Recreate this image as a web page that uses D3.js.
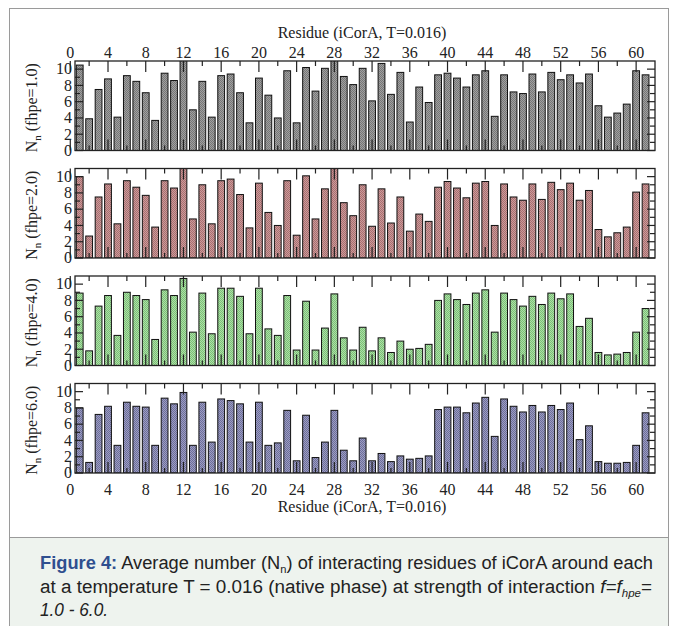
<!DOCTYPE html>
<html>
<head>
<meta charset="utf-8">
<script src="https://cdn.jsdelivr.net/npm/d3@7"></script>
<style>
  body { margin: 0; background: #fff; }
  svg { display: block; }
</style>
</head>
<body>
<svg id="chart"></svg>
<script>
// residues along the chain
const residues = d3.range(1, 62);

// N_n per residue, one list per interaction strength
const nnF1 = [10.5,3.9,7.5,8.8,4.1,9.2,8.5,7.1,3.7,9.5,8.6,11.5,5.0,8.5,4.1,9.2,9.4,7.1,3.4,8.9,
  6.8,4.0,9.8,3.4,10.2,7.3,10.1,11.5,9.1,8.1,10.1,6.1,10.7,6.9,9.6,3.5,7.8,5.9,9.3,9.5,
  8.9,7.8,9.3,9.8,4.2,9.3,7.2,7.0,9.4,7.2,9.6,8.7,9.3,8.3,9.4,5.5,4.1,4.6,5.7,9.8,9.3];
const nnF2 = [10.0,2.7,7.5,9.1,4.2,9.5,8.7,7.7,3.8,9.5,8.6,11.5,4.8,9.0,4.2,9.5,9.7,7.8,3.7,9.2,
  5.6,4.0,9.5,2.8,10.1,4.8,8.5,11.5,6.8,5.2,9.0,3.9,8.5,4.3,7.5,3.3,5.4,4.5,8.7,9.4,
  8.6,7.4,9.2,9.4,4.0,9.1,7.5,7.1,9.1,7.2,9.3,8.4,9.2,7.1,8.3,3.5,2.6,3.1,3.8,8.1,9.1];
const nnF4 = [8.9,1.8,7.3,8.6,3.7,9.0,8.6,8.1,3.2,9.3,8.6,10.7,4.1,8.9,3.9,9.5,9.5,8.5,3.9,9.5,
  4.5,3.7,8.6,1.9,7.9,1.9,4.6,8.8,3.4,1.9,4.7,1.8,3.4,1.6,3.0,2.0,2.1,2.6,8.0,8.8,
  8.1,7.5,8.9,9.3,4.1,8.9,8.1,7.3,8.5,7.5,8.9,8.2,8.8,4.8,5.8,1.6,1.3,1.4,1.6,4.1,7.0];
const nnF6 = [8.0,1.3,7.2,8.2,3.4,8.7,8.2,8.1,3.4,9.2,8.5,9.9,3.4,8.7,3.8,9.1,8.9,8.5,3.8,8.7,
  3.4,3.7,7.7,1.5,7.1,1.9,3.8,7.7,2.8,1.5,4.3,1.5,2.4,1.4,2.1,1.7,1.8,2.1,7.8,8.1,
  8.1,7.4,8.6,9.3,4.5,9.1,8.2,7.5,8.3,7.5,8.3,7.8,8.6,4.1,5.8,1.4,1.2,1.2,1.3,3.4,7.4];

const panelNames = ["1.0", "2.0", "4.0", "6.0"];
const panelValues = [nnF1, nnF2, nnF4, nnF6];
const panelColors = [["#767676", "#a0a0a0"], ["#a86f70", "#cb9a9a"], ["#7cc077", "#acdfa6"], ["#6d6e9a", "#9c9dc2"]];

const xTicks = d3.range(0, 61, 4);
const xMinor = d3.range(2, 61, 4);
const yTickLabels = [0, 2, 4, 6, 8, 10];

const width = 677, height = 626;
const plotLeft = 75, plotRight = 655;
const panelTop = [61, 168.5, 276, 383.5];
const panelH = 89.5;

const svg = d3.select("#chart").attr("width", width).attr("height", height)
  .attr("viewBox", [0, 0, width, height]);

// figure frame and caption box
svg.append("rect").attr("x", 9.5).attr("y", 8.5).attr("width", 659).attr("height", 529)
  .attr("fill", "#fff").attr("stroke", "#9a9a9a");
svg.append("rect").attr("x", 9.5).attr("y", 537.5).attr("width", 659).attr("height", 100)
  .attr("fill", "#eef3ee").attr("stroke", "#9a9a9a");

const x = d3.scaleLinear().domain([0.5, 62]).range([plotLeft, plotRight]);
const barW = x(1.72) - x(1);

// checker patterns to mimic the dithered fill
const defs = svg.append("defs");
panelColors.forEach((c, i) => {
  const p = defs.append("pattern").attr("id", "pat" + i).attr("width", 2).attr("height", 2)
    .attr("patternUnits", "userSpaceOnUse");
  p.append("rect").attr("width", 2).attr("height", 2).attr("fill", c[1]);
  p.append("rect").attr("width", 1).attr("height", 1).attr("fill", c[0]);
  p.append("rect").attr("x", 1).attr("y", 1).attr("width", 1).attr("height", 1).attr("fill", c[0]);
});

const serif = "'Liberation Serif', 'DejaVu Serif', serif";
const fs = 16;

panelValues.forEach((vals, i) => {
  const top = panelTop[i], bottom = top + panelH;
  const y = d3.scaleLinear().domain([0, 11]).range([bottom, top]);
  const g = svg.append("g");

  const clipId = "clip" + i;
  defs.append("clipPath").attr("id", clipId).append("rect")
    .attr("x", plotLeft).attr("y", top).attr("width", plotRight - plotLeft).attr("height", panelH);

  g.append("g").attr("clip-path", `url(#${clipId})`)
    .selectAll("rect").data(residues).join("rect")
    .attr("x", (d) => x(d) - barW / 2)
    .attr("y", (d, j) => y(vals[j]))
    .attr("width", barW)
    .attr("height", (d, j) => y(0) - y(vals[j]))
    .attr("fill", `url(#pat${i})`)
    .attr("stroke", "#111")
    .attr("stroke-width", 1);

  // x ticks top and bottom, pointing inward
  const tk = g.append("g").attr("stroke", "#222").attr("stroke-width", 1.2);
  [[xTicks, 11], [xMinor, 5]].forEach(([vs, len]) => {
    tk.selectAll(null).data(vs).join("line")
      .attr("x1", (d) => x(d)).attr("x2", (d) => x(d))
      .attr("y1", top).attr("y2", top + len);
    tk.selectAll(null).data(vs).join("line")
      .attr("x1", (d) => x(d)).attr("x2", (d) => x(d))
      .attr("y1", bottom).attr("y2", bottom - len);
  });

  // y ticks left and right
  const yt = d3.range(0, 11);
  tk.selectAll(null).data(yt).join("line")
    .attr("x1", plotLeft).attr("x2", (d) => plotLeft + (d % 2 ? 5 : 8))
    .attr("y1", (d) => y(d)).attr("y2", (d) => y(d));
  tk.selectAll(null).data(yt).join("line")
    .attr("x1", plotRight).attr("x2", (d) => plotRight - (d % 2 ? 5 : 8))
    .attr("y1", (d) => y(d)).attr("y2", (d) => y(d));

  g.append("rect").attr("x", plotLeft).attr("y", top)
    .attr("width", plotRight - plotLeft).attr("height", panelH)
    .attr("fill", "none").attr("stroke", "#222").attr("stroke-width", 1.3);

  g.selectAll(null).data(yTickLabels).join("text")
    .attr("x", plotLeft - 3).attr("y", (d) => y(d)).attr("dy", "0.33em")
    .attr("text-anchor", "end").attr("font-family", serif).attr("font-size", fs)
    .attr("fill", "#222").text((d) => d);

  const lab = g.append("text")
    .attr("transform", `translate(37,${top + panelH / 2 + 2}) rotate(-90)`)
    .attr("text-anchor", "middle").attr("font-family", serif).attr("font-size", fs)
    .attr("fill", "#222");
  lab.append("tspan").text("N");
  lab.append("tspan").attr("font-size", 11).attr("dy", 4).text("n");
  lab.append("tspan").attr("dy", -4).text(` (fhpe=${panelNames[i]})`);
});

// top and bottom residue axes
svg.append("g").selectAll("text").data(xTicks).join("text")
  .attr("x", (d) => x(d)).attr("y", 52).attr("dy", "0.35em")
  .attr("text-anchor", "middle").attr("font-family", serif).attr("font-size", fs)
  .attr("fill", "#222").text((d) => d);
svg.append("g").selectAll("text").data(xTicks).join("text")
  .attr("x", (d) => x(d)).attr("y", panelTop[3] + panelH + 16).attr("dy", "0.35em")
  .attr("text-anchor", "middle").attr("font-family", serif).attr("font-size", fs)
  .attr("fill", "#222").text((d) => d);
svg.append("text").attr("x", 362).attr("y", 32).attr("dy", "0.35em")
  .attr("text-anchor", "middle").attr("font-family", serif).attr("font-size", fs)
  .attr("fill", "#222").text("Residue (iCorA, T=0.016)");
svg.append("text").attr("x", 362).attr("y", 506).attr("dy", "0.35em")
  .attr("text-anchor", "middle").attr("font-family", serif).attr("font-size", fs)
  .attr("fill", "#222").text("Residue (iCorA, T=0.016)");

// caption
const sans = "'Liberation Sans Narrow', 'Arial Narrow', 'Liberation Sans', Arial, sans-serif";
const c1 = svg.append("text").attr("x", 40).attr("y", 569).attr("font-family", sans)
  .attr("font-size", 18).attr("fill", "#222").attr("textLength", 613).attr("lengthAdjust", "spacingAndGlyphs");
c1.append("tspan").attr("fill", "#2f4f8f").attr("font-weight", "bold").text("Figure 4:");
c1.append("tspan").text(" Average number (N");
c1.append("tspan").attr("font-size", 11).attr("dy", 4).text("n");
c1.append("tspan").attr("dy", -4).text(") of interacting residues of iCorA around each");

const c2 = svg.append("text").attr("x", 40).attr("y", 593).attr("font-family", sans)
  .attr("font-size", 18).attr("fill", "#222").attr("textLength", 612).attr("lengthAdjust", "spacingAndGlyphs");
c2.append("tspan").text("at a temperature T = 0.016 (native phase) at strength of interaction ");
c2.append("tspan").attr("font-style", "italic").text("f=f");
c2.append("tspan").attr("font-style", "italic").attr("font-size", 11).attr("dy", 4).text("hpe");
c2.append("tspan").attr("dy", -4).text("=");

svg.append("text").attr("x", 40).attr("y", 616).attr("font-family", sans)
  .attr("font-size", 18).attr("font-style", "italic").attr("fill", "#222")
  .attr("textLength", 68).attr("lengthAdjust", "spacingAndGlyphs").text("1.0 - 6.0.");
</script>
</body>
</html>
